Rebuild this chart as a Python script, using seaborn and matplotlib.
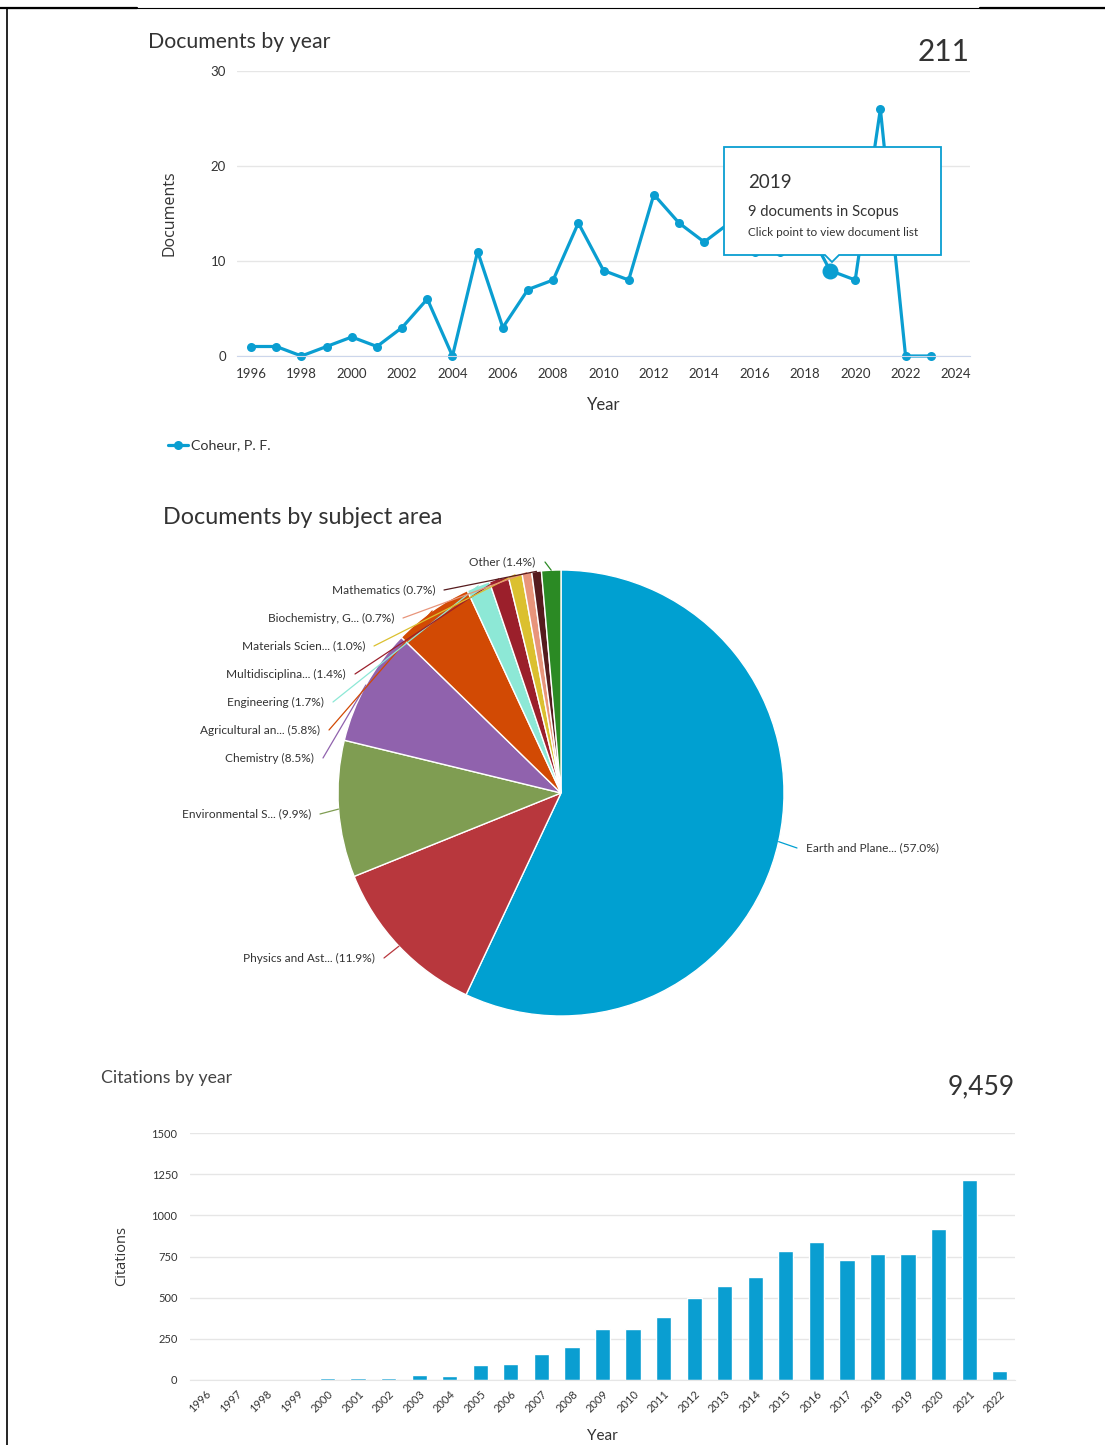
import numpy as np
import matplotlib
matplotlib.use("Agg")
import matplotlib.pyplot as plt
import seaborn as sns
import pandas as pd
from matplotlib.patches import Polygon
from matplotlib.lines import Line2D

# ---- data ----
doc_years = list(range(1996, 2024))
doc_counts = [1, 1, 0, 1, 2, 1, 3, 6, 0, 11, 3, 7, 8, 14, 9, 8, 17, 14, 12,
              14, 11, 11, 14, 9, 8, 26, 0, 0]
doc_total = "211"
author = "Coheur, P. F."

subject_names = ["Earth and Plane...", "Physics and Ast...", "Environmental S...",
                 "Chemistry", "Agricultural an...", "Engineering",
                 "Multidisciplina...", "Materials Scien...", "Biochemistry, G...",
                 "Mathematics", "Other"]
subject_pct = [57.0, 11.9, 9.9, 8.5, 5.8, 1.7, 1.4, 1.0, 0.7, 0.7, 1.4]
subject_colors = ["#00a0d1", "#b8373d", "#7f9d52", "#9062ad", "#d24a04",
                  "#8de8d6", "#9b1f2b", "#dbc02f", "#e8957b", "#561b1e", "#2b8a24"]

cit_years = [str(y) for y in range(1996, 2023)]
cit_counts = [0, 0, 0, 0, 10, 10, 10, 30, 22, 92, 98, 160, 200, 312, 308, 385, 500,
              568, 628, 782, 836, 728, 766, 768, 914, 1212, 52]
cit_total = "9,459"

BLUE = "#0a9ed1"
TXT = "#333333"
GRID = "#e6e6e6"

sns.set_style("white")
plt.rcParams["font.family"] = ["Lato", "DejaVu Sans"]

W, H = 1105, 1445
fig = plt.figure(figsize=(W / 100, H / 100), dpi=100)


def box(l, t, r, b):
    return [l / W, 1 - b / H, (r - l) / W, (b - t) / H]


# ---- documents by year ----
ax1 = fig.add_axes(box(237, 71, 970, 356))
df1 = pd.DataFrame({"Year": doc_years, "Documents": doc_counts})
sns.lineplot(data=df1, x="Year", y="Documents", ax=ax1, color=BLUE, linewidth=2.3,
             marker="o", markersize=6.5, markeredgewidth=0, clip_on=False)
hl = df1[df1["Year"] == 2019]
ax1.scatter(hl["Year"], hl["Documents"], s=110, color=BLUE, zorder=5, clip_on=False)
ax1.set_xlim(1995.44, 2024.56)
ax1.set_ylim(0, 30)
ax1.set_xticks(range(1996, 2025, 2))
ax1.set_yticks([0, 10, 20, 30])
ax1.grid(axis="y", color=GRID, linewidth=1)
for s in ["top", "left", "right"]:
    ax1.spines[s].set_visible(False)
ax1.spines["bottom"].set_color("#ccd6eb")
ax1.tick_params(axis="both", length=0, labelsize=9.5, colors=TXT)
ax1.tick_params(axis="x", pad=9)
ax1.tick_params(axis="y", pad=8)
ax1.set_xlabel("Year", fontsize=12, color=TXT, labelpad=12)
ax1.set_ylabel("Documents", fontsize=11.5, color=TXT, labelpad=24,
               family=["Open Sans", "DejaVu Sans"])

# ---- documents by subject area ----
cx, cy, R = 561, 793, 223
ax2 = fig.add_axes(box(cx - R, cy - R, cx + R, cy + R))
wedges, _ = ax2.pie(subject_pct, colors=subject_colors, startangle=90,
                    counterclock=False,
                    wedgeprops=dict(edgecolor="white", linewidth=1))
for w in wedges:
    w.set_clip_on(False)
ax2.set_xlim(-1, 1)
ax2.set_ylim(-1, 1)

# label anchor points (pixels) : x, y, alignment
label_pos = [(806, 848, "left"), (375, 958, "right"), (311, 814, "right"),
             (314, 758, "right"), (320, 730, "right"), (324, 702, "right"),
             (346, 674, "right"), (365, 646, "right"), (394, 618, "right"),
             (435, 590, "right"), (535, 562, "right")]

# ---- citations by year ----
ax3 = fig.add_axes(box(190, 1133, 1015, 1380))
df3 = pd.DataFrame({"Year": cit_years, "Citations": cit_counts})
sns.barplot(data=df3, x="Year", y="Citations", ax=ax3, color=BLUE, saturation=1,
            width=0.5)
ax3.set_xlim(-0.5, 26.5)
ax3.set_ylim(0, 1500)
ax3.set_yticks([0, 250, 500, 750, 1000, 1250, 1500])
ax3.grid(axis="y", color=GRID, linewidth=1)
ax3.set_axisbelow(True)
for s in ["top", "left", "right"]:
    ax3.spines[s].set_visible(False)
ax3.spines["bottom"].set_color("#e6e6e6")
ax3.tick_params(axis="both", length=0, labelsize=8, colors=TXT)
ax3.tick_params(axis="y", pad=9)
ax3.tick_params(axis="x", pad=6)
plt.setp(ax3.get_xticklabels(), rotation=45, ha="right", rotation_mode="anchor")
ax3.set_xlabel("Year", fontsize=11, color=TXT, labelpad=10)
ax3.set_ylabel("Citations", fontsize=10.5, color=TXT, labelpad=16,
               family=["Open Sans", "DejaVu Sans"])

# ---- overlay: titles, tooltip, legend, leader lines, border ----
ov = fig.add_axes([0, 0, 1, 1], zorder=10)
ov.set_xlim(0, W)
ov.set_ylim(H, 0)
ov.axis("off")
ov.patch.set_visible(False)

ov.text(148, 42, "Documents by year", fontsize=15.3, color=TXT, va="center")
ov.text(970, 52, doc_total, fontsize=21.5, color=TXT, va="center", ha="right")
ov.text(163, 517, "Documents by subject area", fontsize=16.8, color=TXT, va="center")
ov.text(101, 1078, "Citations by year", fontsize=12.7, color="#444444", va="center")
ov.text(1015, 1087, cit_total, fontsize=19, color=TXT, va="center", ha="right")

# legend
ov.add_line(Line2D([168, 188], [445, 445], color=BLUE, linewidth=2.3))
ov.plot([178], [445], "o", color=BLUE, markersize=6.5, markeredgewidth=0)
ov.text(191, 445, author, fontsize=10.3, color=TXT, va="center")

# tooltip
ov.add_patch(Polygon([(724, 147), (941, 147), (941, 255), (839, 255), (832, 262),
                      (825, 255), (724, 255)], closed=True, facecolor="white",
                     edgecolor=BLUE, linewidth=1.3))
ov.text(748, 182, "2019", fontsize=13.5, color=TXT, va="center")
ov.text(748, 212, "9 documents in Scopus", fontsize=10.7, color=TXT, va="center")
ov.text(748, 232, "Click point to view document list", fontsize=8.5, color=TXT,
        va="center")

# pie labels with connectors
for w, name, pct, (lx, ly, ha), col in zip(wedges, subject_names, subject_pct,
                                           label_pos, subject_colors):
    mid = np.deg2rad((w.theta1 + w.theta2) / 2)
    ex, ey = cx + R * np.cos(mid), cy - R * np.sin(mid)
    sx = lx - 9 if ha == "left" else lx + 9
    if name == "Other":
        sx = lx + 10
    ov.add_line(Line2D([sx, ex], [ly, ey], color=col, linewidth=0.9))
    ov.text(lx, ly, f"{name} ({pct:.1f}%)", fontsize=8.6, color=TXT, va="center",
            ha=ha)

# screenshot border
ov.add_line(Line2D([7, 7], [8, H], color="black", linewidth=1.2))
ov.add_line(Line2D([7, W], [8, 8], color="black", linewidth=0.8))
ov.add_line(Line2D([0, 137], [8, 8], color="black", linewidth=1.6))
ov.add_line(Line2D([980, W], [8, 8], color="black", linewidth=1.6))

fig.savefig("out.png", dpi=100)
